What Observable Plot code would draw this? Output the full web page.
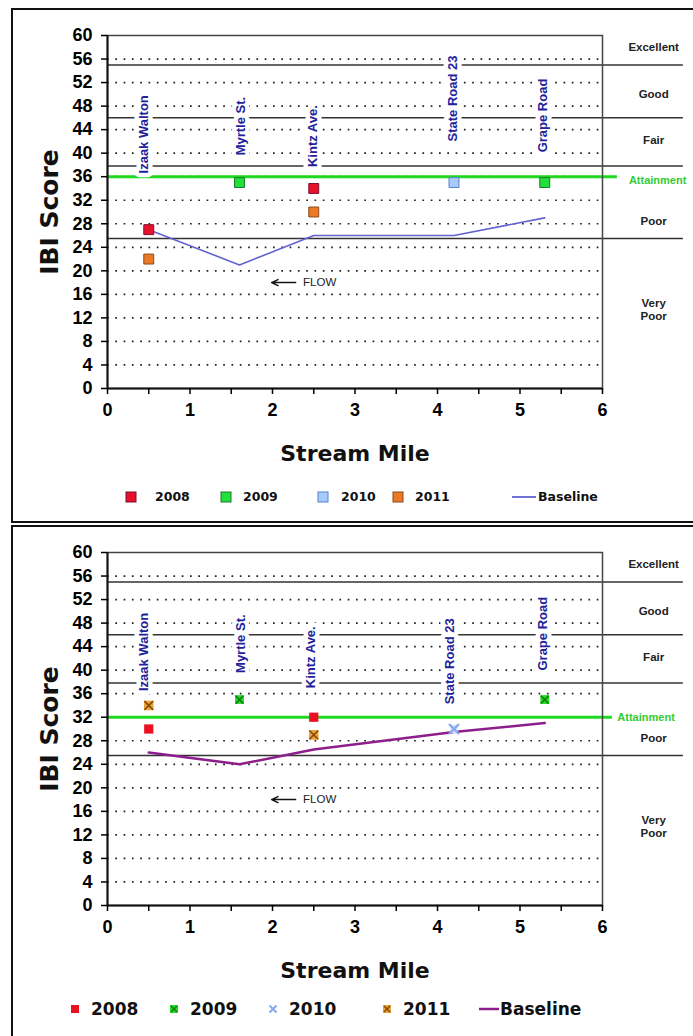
<!DOCTYPE html>
<html><head><meta charset="utf-8">
<script src="https://cdn.jsdelivr.net/npm/d3@7"></script>
<script src="https://cdn.jsdelivr.net/npm/@observablehq/plot@0.6"></script>
<style>
html,body{margin:0;padding:0;background:#fff;}
body{width:693px;height:1036px;overflow:hidden;position:relative;font-family:"Liberation Sans",Arial,sans-serif;}
.panel{position:absolute;left:11px;width:700px;border:2px solid #111;background:#fff;}
#pa{top:8px;height:511px;}
#pb{top:525px;height:520px;}
.plotwrap{position:absolute;left:0;top:0;}
.letter{position:absolute;left:10px;color:#ff3a0a;font:27px "Liberation Sans",Arial,sans-serif;line-height:1;}
.legtext{position:absolute;font-weight:bold;color:#111;white-space:nowrap;}
.legsw{position:absolute;overflow:visible;}
</style>
</head><body>
<div id="pa" class="panel"><div class="letter" style="top:29px">a</div><div class="plotwrap" id="plotA"></div></div>
<div id="pb" class="panel"><div class="letter" style="top:15px">b</div><div class="plotwrap" id="plotB"></div></div>
<script>
// ---------- data ----------
const sites = ["Izaak Walton", "Myrtle St.", "Kintz Ave.", "State Road 23", "Grape Road"];
const siteMiles = [0.5, 1.6, 2.5, 4.2, 5.3];
const years = ["2008", "2009", "2010", "2011"];
const yTicks = [0, 4, 8, 12, 16, 20, 24, 28, 32, 36, 40, 44, 48, 52, 56, 60];
const xTicks = [0, 0.5, 1, 1.5, 2, 2.5, 3, 3.5, 4, 4.5, 5, 5.5, 6];
const classNames = ["Excellent", "Good", "Fair", "Poor", "Very\nPoor"];
const classLabelY = [58.1, 50.2, 42.3, 28.6, 13.5];
const classBreaks = [55, 46, 37.8, 25.5];

// panel a
const a2008 = [27, null, 34, null, null];
const a2009 = [null, 35, null, null, 35];
const a2010 = [null, null, null, 35, null];
const a2011 = [22, null, 30, null, null];
const aBaseline = [27, 21, 26, 26, 29];
const aAttainment = 36;
const aLabelX = [0.44, 1.62, 2.49, 4.19, 5.28];
const aLabelY = [43.2, 44.6, 42.9, 49.3, 46.4];

// panel b
const b2008 = [30, null, 32, null, null];
const b2009 = [null, 35, null, null, 35];
const b2010 = [null, null, null, 30, null];
const b2011 = [34, null, 29, null, null];
const bBaseline = [26, 24, 26.5, 29.5, 31];
const bAttainment = 32;
const bLabelX = [0.44, 1.62, 2.47, 4.15, 5.28];
const bLabelY = [43.1, 44.5, 42.2, 41.5, 46.2];

const flowArrowX = [2.28, 1.99];
const flowY = 18;
const flowTextX = 2.37;

// ---------- helpers ----------
const rows = vals => vals.map((v, i) => ({x: siteMiles[i], y: v})).filter(d => d.y != null);

function panel(cfg) {
  const siteRows = sites.map((s, i) => ({name: s, x: cfg.labelX[i], y: cfg.labelY[i]}));
  const classRows = classNames.map((c, i) => ({name: c, y: classLabelY[i]}));
  return Plot.plot({
    width: 680, height: 460,
    marginTop: 25, marginBottom: 82, marginLeft: 94, marginRight: 91,
    x: {domain: [0, 6]},
    y: {domain: [0, 60]},
    style: {fontFamily: "'Liberation Sans', Arial, sans-serif", background: "white", overflow: "visible"},
    marks: [
      Plot.ruleY(yTicks.filter(t => t > 0 && t < 60), {stroke: "#222", strokeWidth: 1.7, strokeDasharray: "1.7,6.6"}),
      Plot.ruleY(classBreaks, {x1: 0, x2: 6.98, stroke: "#333", strokeWidth: 1.5}),
      Plot.ruleY([cfg.attain], {x1: 0, x2: cfg.attainEnd, stroke: "#1fd81f", strokeWidth: 3}),
      Plot.frame({stroke: "#444", strokeWidth: 1.5}),
      Plot.ruleX([0], {stroke: "#111", strokeWidth: 2}),
      Plot.ruleY([0], {stroke: "#111", strokeWidth: 2}),
      Plot.line(rows(cfg.baseline), {x: "x", y: "y", stroke: cfg.baseColor, strokeWidth: cfg.baseWidth}),
      Plot.text(siteRows, {x: "x", y: "y", text: "name", rotate: -90, fontSize: 13, fontWeight: "bold",
        fill: "#22229a", stroke: "white", strokeWidth: 9}),
      ...cfg.markers,
      Plot.arrow([{x1: flowArrowX[0], x2: flowArrowX[1], y: flowY}], {x1: "x1", x2: "x2", y1: "y", y2: "y",
        stroke: "#111", strokeWidth: 1.5, headLength: 7, headAngle: 50}),
      Plot.text(["FLOW"], {x: flowTextX, y: flowY, text: d => d, textAnchor: "start", fontSize: 11.5, fill: "#222"}),
      Plot.text(classRows, {x: 6.62, y: "y", text: "name", fontSize: 11.5, fontWeight: "bold", fill: "#222", lineHeight: 1.2}),
      Plot.text(["Attainment"], {x: cfg.attainTextX, y: cfg.attain, dy: cfg.attainDy, text: d => d, textAnchor: "start",
        fontSize: 11, fontWeight: "bold", fill: "#33cc33"}),
      Plot.axisY({ticks: yTicks, tickSize: 6, tickPadding: 9, fontSize: 18, fontWeight: "bold", strokeWidth: 1.5, label: null}),
      Plot.axisX({ticks: xTicks, tickSize: 6, tickPadding: 9, fontSize: 18, fontWeight: "bold", strokeWidth: 1.5, label: null,
        tickFormat: d => Number.isInteger(d) ? d : ""}),
      Plot.text(["Stream Mile"], {frameAnchor: "bottom", dy: 65, text: d => d, textAnchor: "middle", lineAnchor: "middle",
        fontSize: 22, fontWeight: "bold", fontFamily: "'DejaVu Sans', Verdana, sans-serif", fill: "#111"}),
      Plot.text(["IBI Score"], {frameAnchor: "left", dx: -58, rotate: -90, text: d => d, textAnchor: "middle", lineAnchor: "middle",
        fontSize: 25, fontWeight: "bold", fontFamily: "'DejaVu Sans', Verdana, sans-serif", fill: "#111"})
    ]
  });
}

// ---------- panel a ----------
const colA = {"2008": ["#e8102a", "#7a1030"], "2009": ["#22e03a", "#1a7a2a"], "2010": ["#a6ccff", "#5a7fc8"], "2011": ["#ea7a26", "#8a4a1a"]};
const aSeries = [a2008, a2009, a2010, a2011];
const aMarkers = years.map((yr, k) => Plot.dot(rows(aSeries[k]), {x: "x", y: "y", symbol: "square", r: 5.6,
  fill: colA[yr][0], stroke: colA[yr][1], strokeWidth: 1}));
document.getElementById("plotA").append(panel({
  labelX: aLabelX, labelY: aLabelY, attain: aAttainment, attainEnd: 6.18, attainTextX: 6.32, attainDy: 4,
  baseline: aBaseline, baseColor: "#6262d0", baseWidth: 1.6, markers: aMarkers
}));

// ---------- panel b ----------
const bMarkers = [
  Plot.dot(rows(b2008), {x: "x", y: "y", symbol: "square", r: 5.2, fill: "#ec1022"}),
  Plot.dot(rows(b2009), {x: "x", y: "y", symbol: "square", r: 5, fill: "#25dd25"}),
  Plot.dot(rows(b2009), {x: "x", y: "y", symbol: "times", r: 3.6, stroke: "#137a13", strokeWidth: 1.6}),
  Plot.dot(rows(b2010), {x: "x", y: "y", symbol: "square", r: 4.6, fill: "#dde8fb"}),
  Plot.dot(rows(b2010), {x: "x", y: "y", symbol: "times", r: 4.6, stroke: "#86a8ee", strokeWidth: 2.4}),
  Plot.dot(rows(b2011), {x: "x", y: "y", symbol: "square", r: 5.4, fill: "#eea030"}),
  Plot.dot(rows(b2011), {x: "x", y: "y", symbol: "times", r: 4, stroke: "#7a4a12", strokeWidth: 1.5})
];
document.getElementById("plotB").append(panel({
  labelX: bLabelX, labelY: bLabelY, attain: bAttainment, attainEnd: 6.12, attainTextX: 6.18, attainDy: 0,
  baseline: bBaseline, baseColor: "#8c1f8c", baseWidth: 2.5, markers: bMarkers
}));

// ---------- legends ----------
function legend(items, y, fontSize, family) {
  const body = d3.select(document.body);
  for (const it of items) {
    const sw = body.append("svg").attr("class", "legsw").attr("width", 30).attr("height", 20)
      .style("left", (it.cx - 15) + "px").style("top", (y - 10) + "px");
    it.draw(sw);
    body.append("div").attr("class", "legtext").text(it.label)
      .style("left", it.tx + "px").style("top", (y - 0.5 * fontSize) + "px")
      .style("font-size", fontSize + "px").style("line-height", fontSize + "px").style("font-family", family);
  }
}
const sq = (fill, stroke, s) => g => g.append("rect").attr("x", 15 - s / 2).attr("y", 10 - s / 2).attr("width", s).attr("height", s)
  .attr("fill", fill).attr("stroke", stroke || "none").attr("stroke-width", 1);
const cross = (stroke, s, w) => g => g.append("path")
  .attr("d", `M${15 - s},${10 - s}L${15 + s},${10 + s}M${15 - s},${10 + s}L${15 + s},${10 - s}`)
  .attr("stroke", stroke).attr("stroke-width", w);
const seg = (stroke, x1, x2, w) => g => g.append("line").attr("x1", x1).attr("x2", x2).attr("y1", 10).attr("y2", 10)
  .attr("stroke", stroke).attr("stroke-width", w);

legend([
  {cx: 131, tx: 155, label: years[0], draw: sq(colA["2008"][0], colA["2008"][1], 10)},
  {cx: 226, tx: 243, label: years[1], draw: sq(colA["2009"][0], colA["2009"][1], 10)},
  {cx: 323, tx: 341, label: years[2], draw: sq(colA["2010"][0], colA["2010"][1], 10)},
  {cx: 398, tx: 415, label: years[3], draw: sq(colA["2011"][0], colA["2011"][1], 10)},
  {cx: 524, tx: 538, label: "Baseline", draw: seg("#6262d0", 3, 27, 1.8)}
], 497, 12.5, "'DejaVu Sans', Verdana, sans-serif");

legend([
  {cx: 75, tx: 91, label: years[0], draw: g => sq("#ec1022", null, 8)(g)},
  {cx: 174, tx: 190, label: years[1], draw: g => { sq("#25dd25", null, 8)(g); cross("#137a13", 3, 1.4)(g); }},
  {cx: 273, tx: 289, label: years[2], draw: g => cross("#86a8ee", 3.5, 2)(g)},
  {cx: 387, tx: 403, label: years[3], draw: g => { sq("#eea030", null, 8)(g); cross("#7a4a12", 3, 1.4)(g); }},
  {cx: 489, tx: 500, label: "Baseline", draw: seg("#8c1f8c", 5, 25, 2.5)}
], 1009, 17, "'DejaVu Sans', Verdana, sans-serif");
</script>
</body></html>
